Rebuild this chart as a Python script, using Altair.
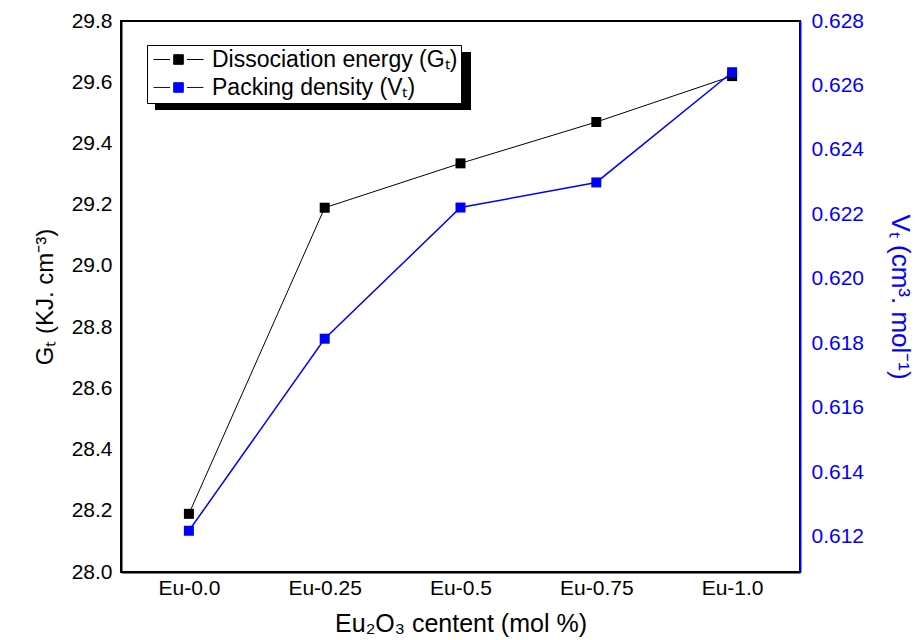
import altair as alt
import pandas as pd

categories = ["Eu-0.0", "Eu-0.25", "Eu-0.5", "Eu-0.75", "Eu-1.0"]
gt_values = [28.19, 29.19, 29.335, 29.47, 29.62]
vt_values = [0.61218, 0.61814, 0.62221, 0.62299, 0.62641]
series_names = ["Dissociation energy (Gₜ)", "Packing density (Vₜ)"]
left_ticks = [28.0, 28.2, 28.4, 28.6, 28.8, 29.0, 29.2, 29.4, 29.6, 29.8]
right_ticks = [0.612, 0.614, 0.616, 0.618, 0.620, 0.622, 0.624, 0.626, 0.628]

df_g = pd.DataFrame({"cat": categories, "val": gt_values, "series": series_names[0]})
df_v = pd.DataFrame({"cat": categories, "val": vt_values, "series": series_names[1]})

FONT = "Liberation Sans"
TICK_FS = 21
TITLE_FS = 24

legend_path = "M-2.5,0H-0.85M0.85,0H2.5M-0.48,-0.48H0.48V0.48H-0.48Z"

color_enc = alt.Color(
    "series:N",
    scale=alt.Scale(domain=series_names, range=["black", "#0000ff"]),
    legend=alt.Legend(
        title=None,
        orient="none",
        legendX=26,
        legendY=24,
        fillColor="white",
        strokeColor="black",
        padding=3,
        symbolType=legend_path,
        symbolSize=400,
        symbolStrokeWidth=1,
        symbolOffset=17,
        labelFont=FONT,
        labelFontSize=23,
        labelColor="black",
        labelOffset=22,
        rowPadding=4,
        labelLimit=400,
    ),
)

x_enc = alt.X(
    "cat:N",
    sort=categories,
    scale=alt.Scale(type="point", padding=0.5),
    axis=alt.Axis(
        title="Eu₂O₃ centent (mol %)",
        labelAngle=0,
        labelFont=FONT,
        labelFontSize=TICK_FS,
        labelColor="black",
        labelPadding=5,
        titleFont=FONT,
        titleFontSize=TITLE_FS + 1,
        titleFontWeight="normal",
        titleColor="black",
        titlePadding=13,
        ticks=False,
        domainColor="black",
        domainWidth=2,
        grid=False,
    ),
)

y_left = alt.Y(
    "val:Q",
    scale=alt.Scale(domain=[28.0, 29.8], nice=False, zero=False),
    axis=alt.Axis(
        title="Gₜ (KJ. cm⁻³)",
        values=left_ticks,
        format=".1f",
        labelFont=FONT,
        labelFontSize=TICK_FS,
        labelColor="black",
        labelPadding=9,
        titleFont=FONT,
        titleFontSize=TITLE_FS,
        titleFontWeight="normal",
        titleColor="black",
        titlePadding=14,
        ticks=False,
        domainColor="black",
        domainWidth=2,
        grid=False,
    ),
)

y_right = alt.Y(
    "val:Q",
    scale=alt.Scale(domain=[0.6109, 0.628], nice=False, zero=False),
    axis=alt.Axis(
        orient="right",
        title="Vₜ (cm³. mol⁻¹)",
        values=right_ticks,
        format=".3f",
        labelFont=FONT,
        labelFontSize=TICK_FS,
        labelColor="#0000ff",
        labelPadding=11,
        titleFont=FONT,
        titleFontSize=TITLE_FS + 2,
        titleFontWeight="normal",
        titleColor="#0000ff",
        titlePadding=23,
        ticks=False,
        domainColor="#0000ff",
        domainWidth=2,
        grid=False,
    ),
)

g_base = alt.Chart(df_g).encode(x=x_enc, y=y_left, color=color_enc)
g_layer = alt.layer(
    g_base.mark_line(strokeWidth=1),
    g_base.mark_point(shape="square", filled=True, size=100, opacity=1),
)

v_base = alt.Chart(df_v).encode(x=x_enc, y=y_right, color=color_enc)
v_layer = alt.layer(
    v_base.mark_line(strokeWidth=1.5),
    v_base.mark_point(shape="square", filled=True, size=100, opacity=1),
)

shadow = alt.Chart(pd.DataFrame({"a": [0]})).mark_rect(color="black").encode(
    x=alt.value(34), x2=alt.value(350), y=alt.value(31), y2=alt.value(89)
)

chart = (
    alt.layer(g_layer, v_layer, shadow)
    .resolve_scale(y="independent")
    .properties(
        width=679,
        height=551,
        padding={"left": 121, "top": 21, "right": 116, "bottom": 68},
        autosize="none",
        background="white",
    )
    .configure_view(stroke="black", strokeWidth=2)
)

chart.save("out.html", embed_options={"renderer": "svg", "actions": False})
